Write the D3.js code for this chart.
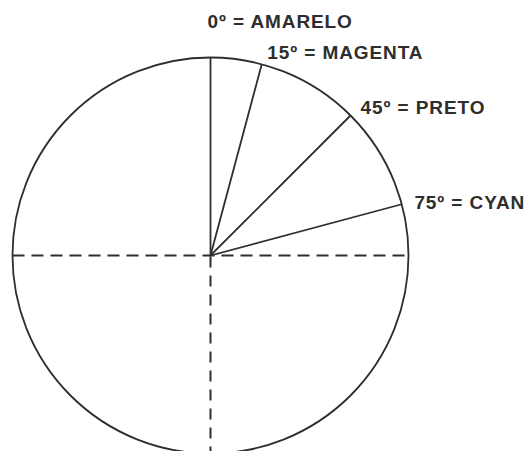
<!DOCTYPE html>
<html>
<head>
<meta charset="utf-8">
<script src="https://cdn.jsdelivr.net/npm/d3@7"></script>
<style>
body { margin: 0; background: #fff; }
</style>
</head>
<body>
<script>
// screen angles (degrees clockwise from vertical) and their labels
var angles = [0, 15, 45, 75];
var colours = ["AMARELO", "MAGENTA", "PRETO", "CYAN"];

var width = 524, height = 451;
var cx = 210.5, cy = 255.5, R = 198;
var ink = "#2e2e2e";

var svg = d3.select("body")
	.append("svg")
	.attr("width", width)
	.attr("height", height)
	.append("g")
	.attr("transform", "translate(" + cx + "," + cy + ")");

var ang = d3.scaleLinear().domain([0, 360]).range([0, 2 * Math.PI]);

// circle
svg.append("circle")
	.attr("r", R)
	.attr("fill", "none")
	.attr("stroke", ink)
	.attr("stroke-width", 1.8);

// dashed axes: horizontal diameter and lower radius
svg.append("line")
	.attr("x1", -R).attr("y1", 0)
	.attr("x2", R).attr("y2", 0)
	.attr("stroke", ink)
	.attr("stroke-width", 2)
	.attr("stroke-dasharray", "12,7");

svg.append("line")
	.attr("x1", 0).attr("y1", R + 4)
	.attr("x2", 0).attr("y2", 0)
	.attr("stroke", ink)
	.attr("stroke-width", 2)
	.attr("stroke-dasharray", "11,8");

// screen angle rays
svg.selectAll(".ray")
	.data(angles)
	.enter()
	.append("line")
	.attr("class", "ray")
	.attr("x1", 0).attr("y1", 0)
	.attr("x2", function (d) { return d3.pointRadial(ang(d), R)[0]; })
	.attr("y2", function (d) { return d3.pointRadial(ang(d), R)[1]; })
	.attr("stroke", ink)
	.attr("stroke-width", 1.8);

// labels just outside the circle, the 0 one lifted above the 15 one
svg.selectAll(".lbl")
	.data(angles)
	.enter()
	.append("text")
	.attr("class", "lbl")
	.attr("x", function (d) { return d3.pointRadial(ang(d), R + 10)[0] + (d == 0 ? -3 : 3); })
	.attr("y", function (d) { return d3.pointRadial(ang(d), R + 10)[1] + (d == 0 ? -20 : 4 + d / 25); })
	.attr("font-family", "Liberation Sans, Arial, sans-serif")
	.attr("font-weight", "bold")
	.attr("font-size", "19px")
	.attr("letter-spacing", "0.9px")
	.attr("fill", ink)
	.text(function (d, i) { return d + "\u00BA = " + colours[i]; });
</script>
</body>
</html>
